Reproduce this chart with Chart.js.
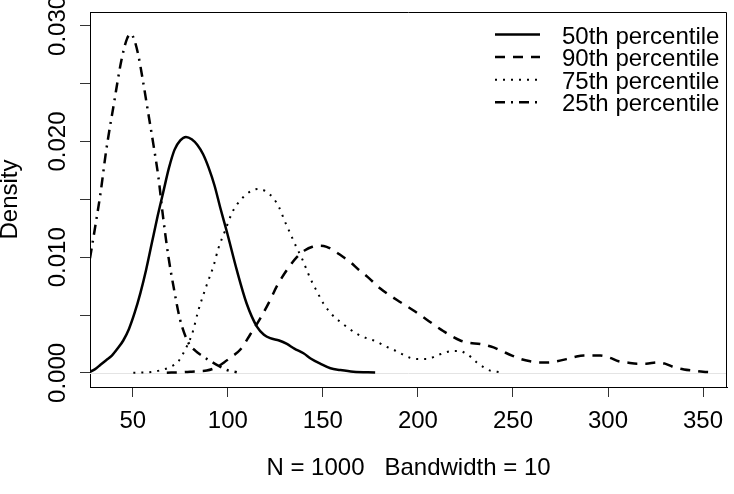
<!DOCTYPE html>
<html>
<head>
<meta charset="utf-8">
<script src="https://cdn.jsdelivr.net/npm/chart.js@4.4.1/dist/chart.umd.min.js"></script>
<style>
  body { margin: 0; background: #fff; }
  #wrap { width: 734px; height: 494px; }
</style>
</head>
<body>
<div id="wrap"><canvas id="densityChart" width="734" height="494"></canvas></div>
<script>
// density estimates (x = value, y = density)
const p50X = [27.5,30,33,36,39,42,45,48,51,54,57,60,63,66,69,72,75,78,81,84,87,90,93,96,99.5,104.7,109.9,115.3,119,122.3,127,131.1,135,139.8,144,148.6,154,159.1,166,177.5];
const p50Y = [0.0001,0.0003,0.0007,0.0011,0.0015,0.0021,0.0028,0.0038,0.0052,0.0069,0.0089,0.0112,0.0135,0.0156,0.0177,0.0193,0.0201,0.0204,0.0202,0.0197,0.0189,0.0177,0.0162,0.0143,0.0122,0.0089,0.0060,0.0040,0.0033,0.0030,0.0028,0.0025,0.0021,0.0017,0.0012,0.0008,0.0004,0.00025,0.0001,0.00003];

const p90X = [67.9,75,80.2,85,88.9,94.2,98,101.2,106.5,111.7,117,122.3,125.8,131.1,136.3,140.6,144.5,148.6,152,155.6,160,164.3,169,173.5,180.2,189,197.7,204.7,213.5,222.3,227,232.8,239.8,244,249.5,254,259.1,264,268.7,273,278.4,283,287.2,292,296,301,305.6,310,315.3,320,325.8,330,334.5,340,345,350,355.6];
const p90Y = [0.00002,0.00005,0.0001,0.00015,0.0002,0.0005,0.0009,0.0013,0.0020,0.0033,0.0047,0.0063,0.0075,0.0089,0.0100,0.0106,0.0109,0.0110,0.0109,0.0106,0.0101,0.0096,0.0089,0.0083,0.0073,0.0063,0.0054,0.0046,0.0036,0.0028,0.0026,0.0025,0.0022,0.0019,0.0015,0.0012,0.0010,0.0009,0.0009,0.0010,0.0012,0.0014,0.0015,0.0015,0.0015,0.0013,0.0010,0.0009,0.0008,0.0008,0.0009,0.0008,0.0005,0.0003,0.0002,0.0001,0.00005];

const p75X = [50.3,58,65.3,69.6,74,76.6,79,81.1,84.5,88.9,92.4,95.1,98.6,102.1,105,108.2,112,116,120,124,127,130,133,136,139,143.3,147,150.3,155,160,164,168.7,173,178.4,183,187.2,192,196,200.3,205,210,215,219,222,225,228.4,231,234.5,238,241.6,245];
const p75Y = [0.00002,0.00005,0.00025,0.0005,0.0010,0.0017,0.0025,0.0033,0.0054,0.0076,0.0092,0.0108,0.0123,0.0138,0.0146,0.0152,0.0157,0.0159,0.0157,0.0151,0.0143,0.0131,0.0120,0.0109,0.0099,0.0082,0.0070,0.0060,0.0050,0.0043,0.0038,0.0033,0.0030,0.0027,0.0023,0.0020,0.0016,0.0013,0.0012,0.0012,0.0015,0.0018,0.0019,0.0019,0.0017,0.0013,0.0009,0.0005,0.0002,0.0001,0.00002];

const p25X = [27.5,30,33,36,40,44,47,49,51,53,55.4,58,60.8,63.5,66,68.7,71.4,74.9,79.3,83,86.3,90,94.2,99.5,104.7];
const p25Y = [0.0099,0.0124,0.0155,0.0192,0.0232,0.0270,0.0289,0.0293,0.0287,0.0274,0.0252,0.0226,0.0198,0.0169,0.0134,0.0101,0.0075,0.0046,0.0026,0.0019,0.0015,0.0011,0.0007,0.00025,0.00005];

const seriesNames = ["50th percentile", "90th percentile", "75th percentile", "25th percentile"];
const yLabelValues = [0, 0.01, 0.02, 0.03];
const yLabelTexts = ["0.000", "0.010", "0.020", "0.030"];

const FONT = '"Liberation Sans", Arial, sans-serif';
Chart.defaults.font.family = FONT;
Chart.defaults.color = "#000";

function pairs(xs, ys) {
    return xs.map((x, i) => ({ x: x, y: ys[i] }));
}

function curve(label, xs, ys, dash, width) {
    return {
        label: label,
        data: pairs(xs, ys),
        borderColor: "#000",
        borderWidth: width,
        borderDash: dash,
        pointRadius: 0,
        fill: false,
        cubicInterpolationMode: "monotone"
    };
}

// R-style bits: box, zero line, rotated y labels, legend
const rStyle = {
    id: "rStyle",
    beforeDatasetsDraw(chart) {
        const { ctx, chartArea } = chart;
        const y0 = Math.round(chart.scales.y.getPixelForValue(0)) + 0.5;
        ctx.save();
        ctx.strokeStyle = "#e4e4e4";
        ctx.lineWidth = 1;
        ctx.beginPath();
        ctx.moveTo(chartArea.left, y0);
        ctx.lineTo(chartArea.right, y0);
        ctx.stroke();
        ctx.restore();
    },
    afterDraw(chart) {
        const { ctx, chartArea } = chart;
        const yScale = chart.scales.y;
        ctx.save();
        // top and right sides of the box
        ctx.strokeStyle = "#000";
        ctx.lineWidth = 1;
        ctx.beginPath();
        ctx.moveTo(Math.round(chartArea.left) + 0.5, Math.round(chartArea.top) + 0.5);
        ctx.lineTo(Math.round(chartArea.right) - 0.5, Math.round(chartArea.top) + 0.5);
        ctx.lineTo(Math.round(chartArea.right) - 0.5, Math.round(chartArea.bottom) + 0.5);
        ctx.stroke();

        // y tick labels, parallel to the axis
        ctx.fillStyle = "#000";
        ctx.font = "24px " + FONT;
        ctx.textAlign = "center";
        ctx.textBaseline = "alphabetic";
        yLabelValues.forEach((v, i) => {
            ctx.save();
            ctx.translate(chartArea.left - 25, yScale.getPixelForValue(v));
            ctx.rotate(-Math.PI / 2);
            ctx.fillText(yLabelTexts[i], 0, 0);
            ctx.restore();
        });

        // legend
        const lx = chartArea.right - 232;
        chart.data.datasets.forEach((ds, i) => {
            const ly = chartArea.top + 22.5 + i * 22.6;
            ctx.strokeStyle = ds.borderColor;
            ctx.lineWidth = ds.borderWidth;
            ctx.setLineDash(ds.borderDash || []);
            ctx.beginPath();
            ctx.moveTo(lx, ly);
            ctx.lineTo(lx + 45, ly);
            ctx.stroke();
            ctx.setLineDash([]);
            ctx.textAlign = "left";
            ctx.fillText(ds.label, lx + 67, ly + 9);
        });
        ctx.restore();
    }
};

const ctx = document.getElementById("densityChart").getContext("2d");

const chart = new Chart(ctx, {
    type: "line",
    data: {
        datasets: [
            curve(seriesNames[0], p50X, p50Y, [], 2.5),
            curve(seriesNames[1], p90X, p90Y, [10, 8], 2.5),
            curve(seriesNames[2], p75X, p75Y, [2, 6], 2),
            curve(seriesNames[3], p25X, p25Y, [10, 6, 2, 6], 2.5)
        ]
    },
    options: {
        responsive: false,
        animation: false,
        layout: { padding: { top: 12, right: 7, left: 0, bottom: 0 } },
        plugins: {
            legend: { display: false },
            tooltip: { enabled: false }
        },
        scales: {
            x: {
                type: "linear",
                min: 27.5,
                max: 362.6,
                afterFit(scale) { scale.height = 107; },
                border: { display: true, color: "#000", width: 1 },
                grid: { drawOnChartArea: false, drawTicks: true, tickLength: 10, color: "#333" },
                ticks: {
                    stepSize: 50,
                    includeBounds: false,
                    autoSkip: false,
                    maxRotation: 0,
                    padding: 10,
                    font: { size: 24 },
                    color: "#000"
                },
                title: {
                    display: true,
                    text: "N = 1000   Bandwidth = 10",
                    font: { size: 24 },
                    color: "#000",
                    padding: { top: 0, bottom: 11 }
                }
            },
            y: {
                min: -0.00122,
                max: 0.0312,
                afterFit(scale) { scale.width = 90; },
                border: { display: true, color: "#000", width: 1 },
                grid: { drawOnChartArea: false, drawTicks: true, tickLength: 10, color: "#333" },
                ticks: {
                    stepSize: 0.005,
                    includeBounds: false,
                    display: false
                },
                title: {
                    display: true,
                    text: "Density",
                    font: { size: 24, lineHeight: 0.9 },
                    color: "#000",
                    padding: 0
                }
            }
        }
    },
    plugins: [rStyle]
});
</script>
</body>
</html>
